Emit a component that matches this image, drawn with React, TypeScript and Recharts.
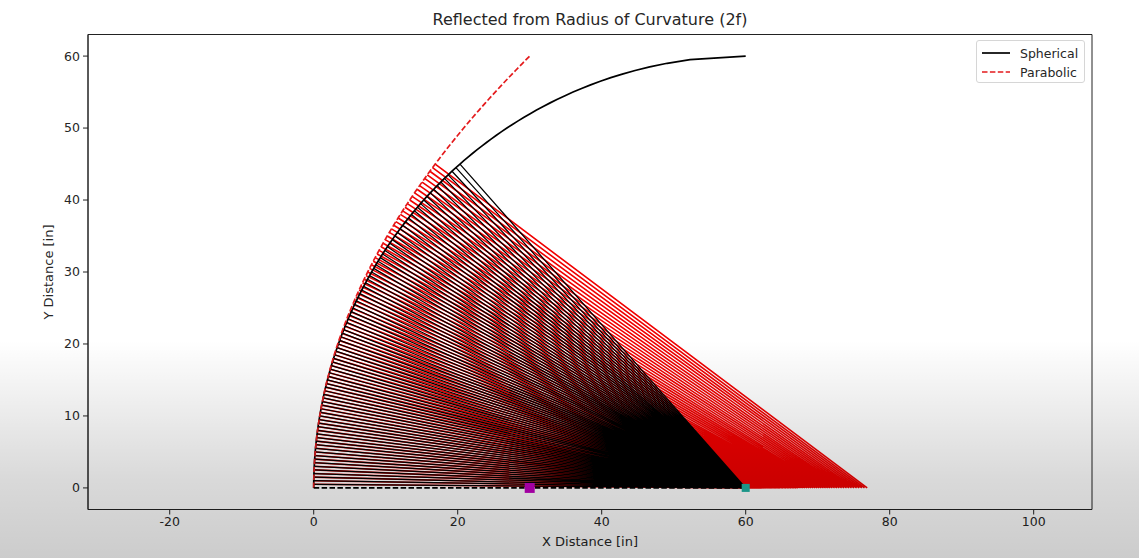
import { ComposedChart, Line, Scatter, XAxis, YAxis, ReferenceArea } from 'recharts';

// mirror geometry (inches)
const RADIUS = 60; // radius of curvature = 2f
const FOCAL_LENGTH = 30;
const RAY_MAX_HEIGHT = 45;

// sample heights along the mirrors
const MIRROR_HEIGHTS = [
  0, 0.5, 1, 1.5, 2, 2.5, 3, 3.5, 4, 4.5, 5, 5.5, 6, 6.5, 7, 7.5, 8, 8.5, 9, 9.5,
  10, 10.5, 11, 11.5, 12, 12.5, 13, 13.5, 14, 14.5, 15, 15.5, 16, 16.5, 17, 17.5, 18, 18.5, 19, 19.5,
  20, 20.5, 21, 21.5, 22, 22.5, 23, 23.5, 24, 24.5, 25, 25.5, 26, 26.5, 27, 27.5, 28, 28.5, 29, 29.5,
  30, 30.5, 31, 31.5, 32, 32.5, 33, 33.5, 34, 34.5, 35, 35.5, 36, 36.5, 37, 37.5, 38, 38.5, 39, 39.5,
  40, 40.5, 41, 41.5, 42, 42.5, 43, 43.5, 44, 44.5, 45, 45.5, 46, 46.5, 47, 47.5, 48, 48.5, 49, 49.5,
  50, 50.5, 51, 51.5, 52, 52.5, 53, 53.5, 54, 54.5, 55, 55.5, 56, 56.5, 57, 57.5, 58, 58.5, 59, 59.5,
  60,
];
// rays leave the mirror above the axis, up to 45 in
const RAY_HEIGHTS = MIRROR_HEIGHTS.filter((h) => h > 0 && h <= RAY_MAX_HEIGHT);

const X_TICKS = [-20, 0, 20, 40, 60, 80, 100];
const Y_TICKS = [0, 10, 20, 30, 40, 50, 60];
const X_DOMAIN: [number, number] = [-31.35, 108.1];
const Y_DOMAIN: [number, number] = [-3, 63];

const OPTICAL_AXIS = [{ x: 0, y: 0 }, { x: RADIUS, y: 0 }];
const FOCUS_POINT = [{ x: FOCAL_LENGTH, y: 0 }];
const CENTER_POINT = [{ x: RADIUS, y: 0 }];

const sphereX = (h: number) => RADIUS - Math.sqrt(RADIUS * RADIUS - h * h);
const parabolaX = (h: number) => (h * h) / (4 * FOCAL_LENGTH);

const sphereCurve = MIRROR_HEIGHTS.map((h) => ({ x: sphereX(h), y: h }));
const parabolaCurve = MIRROR_HEIGHTS.map((h) => ({ x: parabolaX(h), y: h }));

// normals back to the axis, null entries break the path between rays
const sphereRays = RAY_HEIGHTS.flatMap((h) => [
  { x: sphereX(h), y: h },
  { x: RADIUS, y: 0 },
  { x: RADIUS, y: null },
]);
const parabolaRays = RAY_HEIGHTS.flatMap((h) => [
  { x: parabolaX(h), y: h },
  { x: parabolaX(h) + 2 * FOCAL_LENGTH, y: 0 },
  { x: parabolaX(h) + 2 * FOCAL_LENGTH, y: null },
]);

const FONT = '"DejaVu Sans", sans-serif';
const TEXT = '#262626';

const square = (color: string, size: number) => (props: any) => (
  <rect x={props.cx - size / 2} y={props.cy - size / 2} width={size} height={size} fill={color} />
);

export default function App() {
  return (
    <div style={{ position: 'absolute', left: 0, top: 0, width: 1139, height: 558, background: '#fff', fontFamily: FONT, overflow: 'hidden' }}>
      <div style={{ position: 'absolute', left: 590, top: 19, transform: 'translate(-50%, -50%)', fontSize: 16, color: TEXT, whiteSpace: 'nowrap' }}>
        Reflected from Radius of Curvature (2f)
      </div>
      <div style={{ position: 'absolute', left: 590, top: 541, transform: 'translate(-50%, -50%)', fontSize: 13, color: TEXT, whiteSpace: 'nowrap' }}>
        X Distance [in]
      </div>
      <div style={{ position: 'absolute', left: 48, top: 272, transform: 'translate(-50%, -50%) rotate(-90deg)', fontSize: 13, color: TEXT, whiteSpace: 'nowrap' }}>
        Y Distance [in]
      </div>

      <ComposedChart width={1139} height={558} margin={{ top: 34.5, right: 47, bottom: 0, left: 0 }} style={{ position: 'absolute', left: 0, top: 0 }}>
        <XAxis
          type="number"
          dataKey="x"
          domain={X_DOMAIN}
          ticks={X_TICKS}
          allowDataOverflow
          height={48.5}
          tickSize={5}
          tickMargin={3}
          tick={{ fill: TEXT, fontSize: 12.5, fontFamily: FONT }}
          tickLine={{ stroke: '#222' }}
          axisLine={{ stroke: '#222' }}
        />
        <YAxis
          type="number"
          dataKey="y"
          domain={Y_DOMAIN}
          ticks={Y_TICKS}
          allowDataOverflow
          width={88}
          tickSize={5}
          tickMargin={3}
          tick={{ fill: TEXT, fontSize: 12.5, fontFamily: FONT }}
          tickLine={{ stroke: '#222' }}
          axisLine={{ stroke: '#222' }}
        />
        <Scatter data={CENTER_POINT} dataKey="y" shape={square('#1fb0a0', 8)} isAnimationActive={false} />
        <Line data={parabolaRays} dataKey="y" stroke="#f00000" strokeWidth={1.6} dot={false} activeDot={false} isAnimationActive={false} />
        <Line data={sphereRays} dataKey="y" stroke="#000000" strokeWidth={1.25} dot={false} activeDot={false} isAnimationActive={false} />
        <Line data={sphereCurve} dataKey="y" stroke="#000000" strokeWidth={1.7} dot={false} activeDot={false} isAnimationActive={false} />
        <Line data={parabolaCurve} dataKey="y" stroke="#e41a1c" strokeWidth={1.7} strokeDasharray="5.5 2.4" dot={false} activeDot={false} isAnimationActive={false} />
        <Line data={OPTICAL_AXIS} dataKey="y" stroke="#000000" strokeWidth={1.7} strokeDasharray="5.5 2.4" dot={false} activeDot={false} isAnimationActive={false} />
        <Scatter data={FOCUS_POINT} dataKey="y" shape={square('#bf00bf', 10)} isAnimationActive={false} />
        <ReferenceArea x1={X_DOMAIN[0]} x2={X_DOMAIN[1]} y1={Y_DOMAIN[0]} y2={Y_DOMAIN[1]} fill="none" stroke="#222" strokeWidth={1} ifOverflow="visible" />
      </ComposedChart>

      <div style={{ position: 'absolute', left: 976, top: 40, width: 109, height: 43, boxSizing: 'border-box', background: 'rgba(255,255,255,0.8)', border: '1px solid #d6d6d6', borderRadius: 3, fontSize: 12.5, color: TEXT }}>
        <div style={{ position: 'absolute', left: 5, top: 4, display: 'flex', alignItems: 'center', height: 16 }}>
          <svg width={28} height={4}><line x1={0} y1={2} x2={28} y2={2} stroke="#000" strokeWidth={1.7} /></svg>
          <span style={{ marginLeft: 10 }}>Spherical</span>
        </div>
        <div style={{ position: 'absolute', left: 5, top: 23, display: 'flex', alignItems: 'center', height: 16 }}>
          <svg width={28} height={4}><line x1={0} y1={2} x2={28} y2={2} stroke="#e41a1c" strokeWidth={1.7} strokeDasharray="5.5 2.4" /></svg>
          <span style={{ marginLeft: 10 }}>Parabolic</span>
        </div>
      </div>

      {/* screenshot shading at the bottom */}
      <div style={{ position: 'absolute', inset: 0, pointerEvents: 'none', background: 'linear-gradient(to bottom, rgba(0,0,0,0) 0%, rgba(0,0,0,0) 61%, rgba(0,0,0,0.15) 86%, rgba(0,0,0,0.2) 100%)' }} />
    </div>
  );
}
